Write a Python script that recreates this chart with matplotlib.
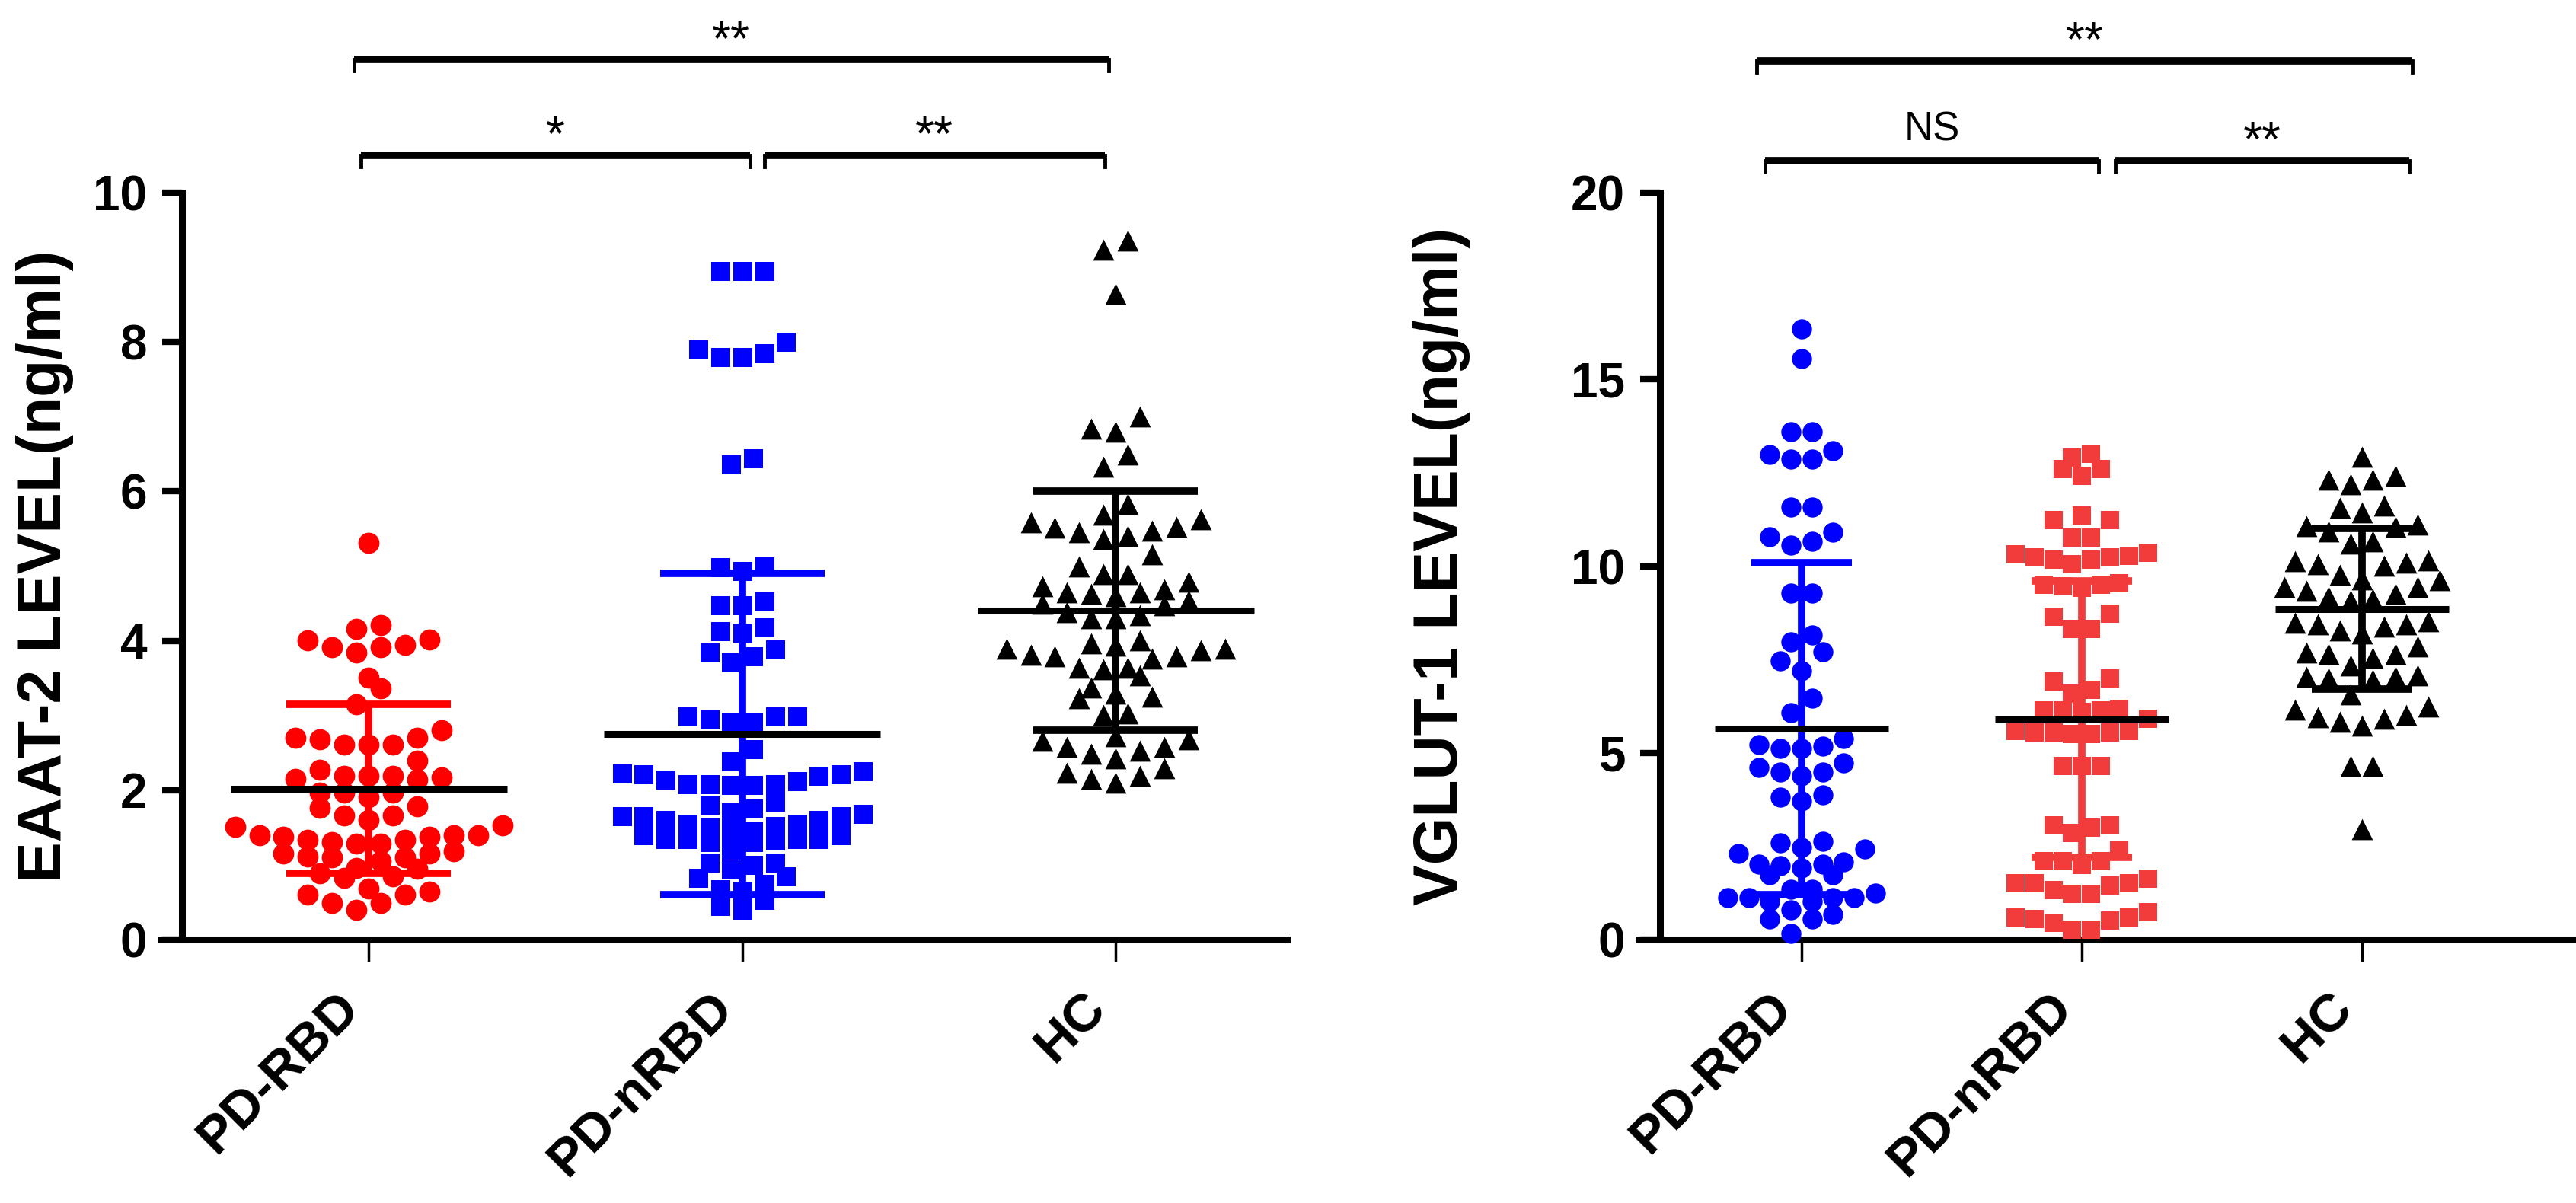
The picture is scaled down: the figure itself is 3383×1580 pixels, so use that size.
import numpy as np
import matplotlib
matplotlib.use("Agg")
import matplotlib.pyplot as plt

plt.rcParams['font.family'] = ['Liberation Sans', 'DejaVu Sans']

# ---------------- data ----------------
groups = ["PD-RBD", "PD-nRBD", "HC"]

# EAAT-2 LEVEL (ng/ml)
eaat2_pd_rbd = [5.31, 4.21, 4.16, 4.02, 4.01, 3.95, 3.91, 3.91, 3.84, 3.51, 3.36, 3.15,
                2.80, 2.70, 2.70, 2.68, 2.61, 2.61, 2.61, 2.40,
                2.27, 2.19, 2.19, 2.19, 2.17, 2.15, 2.14,
                1.97, 1.97, 1.97, 1.91,
                1.78, 1.76, 1.66, 1.66, 1.60, 1.53, 1.51,
                1.40, 1.40, 1.40, 1.38, 1.38, 1.34, 1.34, 1.30, 1.28, 1.28,
                1.18, 1.15, 1.15, 1.11, 1.10, 1.10, 1.05,
                0.96, 0.95, 0.89, 0.85, 0.83,
                0.68, 0.64, 0.60, 0.60, 0.49, 0.49, 0.40]
eaat2_pd_nrbd = [8.95, 8.95, 8.95, 7.90, 7.80, 7.80, 7.85, 8.00, 6.36, 6.44,
                 5.00, 4.93, 4.98, 4.53, 4.47, 4.47, 4.13, 4.11, 4.18, 3.84, 3.71, 3.79, 3.88,
                 2.99, 2.99, 2.92, 2.92, 2.95, 2.99, 2.55,
                 2.39, 2.25, 2.21, 2.07, 2.14, 2.08, 2.12, 2.08, 2.19, 2.21, 2.07, 2.22, 2.08,
                 1.68, 1.52, 1.65, 1.33, 1.55, 1.35, 1.85, 1.60, 1.35, 1.80, 1.55, 1.35, 1.75,
                 1.50, 1.30, 1.65, 1.45, 1.20, 1.45, 1.30, 1.60, 1.40, 1.70, 1.35, 1.65, 1.40,
                 1.03, 1.00, 0.83, 0.67, 0.74, 0.85, 0.94, 1.03,
                 0.53, 0.40, 0.45, 0.65]
eaat2_hc = [9.36, 9.24, 8.64, 7.00, 6.84, 6.80, 6.49, 6.33, 5.83,
            5.69, 5.47, 5.59, 5.40, 5.63, 5.36, 5.45, 5.53, 5.51, 5.16,
            4.99, 4.89, 4.73, 4.79, 4.89, 4.65, 4.60, 4.38, 4.50, 4.30, 4.48, 4.34, 4.54,
            4.63, 4.69, 4.65, 4.30,
            3.93, 3.89, 3.81, 3.64, 3.79, 3.76, 3.54, 3.79, 3.62, 3.89, 3.87, 3.97, 4.01, 3.64,
            3.29, 3.37, 3.23, 3.03, 3.01, 3.25,
            2.72, 2.66, 2.58, 2.49, 2.43, 2.53, 2.58, 2.68,
            2.29, 2.19, 2.10, 2.15, 2.23]
eaat2_mean = [2.02, 2.75, 4.40]
eaat2_sd = [1.13, 2.15, 1.60]
eaat2_sig = ["*", "**", "**"]          # PD-RBD vs PD-nRBD, PD-nRBD vs HC, PD-RBD vs HC

# VGLUT-1 LEVEL (ng/ml)
vglut1_pd_rbd = [16.35, 15.56, 13.60, 13.60, 13.09, 12.87, 12.87, 12.98, 11.57, 11.57,
                 10.90, 10.67, 10.56, 10.79, 9.27, 9.27, 8.15, 7.70, 7.98, 7.47, 7.19, 6.46, 6.07,
                 5.39, 5.17, 5.11, 5.11, 5.22, 4.72, 4.61, 4.49, 4.38, 4.49, 3.88, 3.71, 3.82,
                 2.58, 2.08, 2.47, 1.97, 2.30, 2.42, 2.64, 2.02, 1.74, 1.74, 1.91, 2.02,
                 1.12, 1.01, 1.12, 0.56, 1.24, 0.79, 1.12, 0.56, 1.01, 0.67, 1.12, 0.17, 1.35, 1.35]
vglut1_pd_nrbd = [13.00, 12.91, 12.59, 12.59, 12.41, 11.36, 11.23, 11.23, 10.77, 10.77,
                  10.36, 10.32, 10.27, 10.23, 10.23, 10.18, 10.18, 10.05,
                  9.55, 9.50, 9.50, 9.45, 9.41, 8.73, 8.64, 8.32, 8.32,
                  7.00, 6.91, 6.68, 6.59, 6.18, 6.14, 6.14, 6.14, 6.09, 5.91,
                  5.59, 5.59, 5.55, 5.55, 5.55, 5.50, 5.50, 4.64, 4.64, 4.64,
                  3.05, 3.05, 3.00, 2.86, 2.41, 2.09, 2.09, 2.09, 2.00,
                  1.64, 1.50, 1.50, 1.50, 1.45, 1.32, 1.23, 1.23,
                  0.73, 0.59, 0.59, 0.55, 0.50, 0.27, 0.27, 0.45]
vglut1_hc = [12.93, 12.42, 12.31, 12.20, 12.31, 11.55, 11.62, 11.44, 11.11, 10.93, 11.04, 11.07,
             10.67, 10.60,
             10.16, 10.02, 10.13, 10.09, 10.05, 9.76, 9.62, 9.65, 9.44, 9.44, 9.18, 9.11, 9.07,
             9.25, 9.33,
             8.49, 8.45, 8.27, 8.38, 8.45, 8.53, 8.20, 7.84, 7.69, 7.65, 7.65, 7.55,
             7.00, 6.96, 7.33, 7.04, 7.04, 7.07, 6.56,
             6.24, 6.02, 5.91, 5.73, 5.84, 5.95, 6.16, 4.64, 4.64, 2.96]
vglut1_mean = [5.65, 5.90, 8.85]
vglut1_sd = [4.45, 3.70, 2.15]
vglut1_sig = ["NS", "**", "**"]

# ---------------- layout / style ----------------
DPI = 100
W, H = 3383, 1580
fig = plt.figure(figsize=(W / DPI, H / DPI), dpi=DPI)
fig.patch.set_facecolor("white")

BOTTOM = 1 - 1234 / H
HEIGHT = 981 / H
ax1 = fig.add_axes([212 / W, BOTTOM, (1690 - 212) / W, HEIGHT])
ax2 = fig.add_axes([2152 / W, BOTTOM, (3383 - 2152) / W, HEIGHT])


def swarm(values, step, row_h):
    v = np.asarray(values, float)
    order = np.argsort(v, kind="stable")
    off = np.zeros(len(v))
    i = 0
    while i < len(order):
        j = i
        while j < len(order) and v[order[j]] - v[order[i]] < row_h:
            j += 1
        n = j - i
        slots = (np.arange(n) - (n - 1) / 2.0) * step
        rank = np.argsort(np.abs(slots) + np.arange(n) * 1e-9, kind="stable")
        for k, s in enumerate(rank):
            off[order[i + k]] = slots[s]
        i = j
    return off


def panel(ax, series, means, sds, colors, sd_colors, markers, msizes, ylim, yticks,
          ylabel, xlim, spine_x, mean_half, sd_half, label_x, spacing,
          brackets, sig, bracket_y):
    ax.set_xlim(*xlim)
    ax.set_ylim(*ylim)
    t0 = ax.transData.transform((0, 0))
    t1 = ax.transData.transform((1, 1))
    px_cat = t1[0] - t0[0]
    px_val = t1[1] - t0[1]

    for i, vals in enumerate(series):
        m_px = msizes[i] * DPI / 72
        off = swarm(vals, step=m_px * spacing / px_cat, row_h=m_px * 0.98 / px_val)
        ax.scatter(i + off, vals, s=msizes[i] ** 2, marker=markers[i], c=colors[i],
                   linewidths=0, zorder=3, clip_on=False)
        lo, hi = means[i] - sds[i], means[i] + sds[i]
        ax.vlines(i, lo, hi, color=sd_colors[i], lw=7, zorder=4)
        ax.hlines([lo, hi], i - sd_half, i + sd_half, color=sd_colors[i], lw=7, zorder=4)
        ax.hlines(means[i], i - mean_half, i + mean_half, color="black", lw=6.5, zorder=5)

    for side in ("top", "right"):
        ax.spines[side].set_visible(False)
    ax.spines["left"].set_position(("data", spine_x))
    for side in ("left", "bottom"):
        ax.spines[side].set_linewidth(6.5)
        ax.spines[side].set_capstyle("projecting")

    ax.set_yticks(yticks)
    ax.set_yticklabels([str(t) for t in yticks], fontweight="bold")
    ax.set_xticks(range(len(groups)))
    ax.set_xticklabels(groups, rotation=45, ha="right", fontweight="bold")
    ax.tick_params(axis="y", length=19, width=6, pad=14, labelsize=46, direction="out")
    ax.tick_params(axis="x", length=21, width=2.5, pad=20, labelsize=50, direction="out")

    ax.set_ylabel(ylabel, fontsize=58, fontweight="bold", va="center")
    ax.yaxis.set_label_coords(label_x, 0.5)

    drop = 15 / px_val
    for (x0, x1), y, txt in zip(brackets, bracket_y, sig):
        ax.plot([x0, x1], [y, y], color="black", lw=7, solid_capstyle="butt", clip_on=False)
        for xe in (x0, x1):
            ax.plot([xe, xe], [y, y - drop], color="black", lw=3.5, clip_on=False)
        if txt == "NS":
            fs, ratio = 38, 0.36
        else:
            fs, ratio = 46, 0.60
        fs_px = fs * DPI / 72
        off_pt = (45 - ratio * fs_px) * 72 / DPI
        ax.annotate(txt, xy=((x0 + x1) / 2, y), xytext=(0, off_pt),
                    textcoords="offset points", ha="center", va="baseline",
                    fontsize=fs, annotation_clip=False)


panel(ax1,
      [eaat2_pd_rbd, eaat2_pd_nrbd, eaat2_hc], eaat2_mean, eaat2_sd,
      colors=["#FF0000", "#0000FF", "#000000"],
      sd_colors=["#FF0000", "#0000FF", "#000000"],
      markers=["o", "s", "^"], msizes=[20, 18, 20],
      ylim=(0, 10), yticks=[0, 2, 4, 6, 8, 10],
      ylabel="EAAT-2 LEVEL(ng/ml)",
      xlim=(-0.555, 2.458), spine_x=-0.5,
      mean_half=0.37, sd_half=0.22, label_x=-0.1035, spacing=1.15,
      brackets=[(-0.02, 1.02), (1.06, 1.97), (-0.04, 1.98)],
      sig=eaat2_sig, bracket_y=[10.50, 10.50, 11.78])

panel(ax2,
      [vglut1_pd_rbd, vglut1_pd_nrbd, vglut1_hc], vglut1_mean, vglut1_sd,
      colors=["#0000FF", "#F23C3C", "#000000"],
      sd_colors=["#0000FF", "#F23C3C", "#000000"],
      markers=["o", "s", "^"], msizes=[19, 17, 20],
      ylim=(0, 20), yticks=[0, 5, 10, 15, 20],
      ylabel="VGLUT-1 LEVEL(ng/ml)",
      xlim=(-0.581, 2.764), spine_x=-0.505,
      mean_half=0.31, sd_half=0.18, label_x=-0.2104, spacing=1.05,
      brackets=[(-0.13, 1.06), (1.12, 2.17), (-0.16, 2.18)],
      sig=vglut1_sig, bracket_y=[20.86, 20.86, 23.53])

fig.savefig("out.png", dpi=DPI, facecolor="white")
